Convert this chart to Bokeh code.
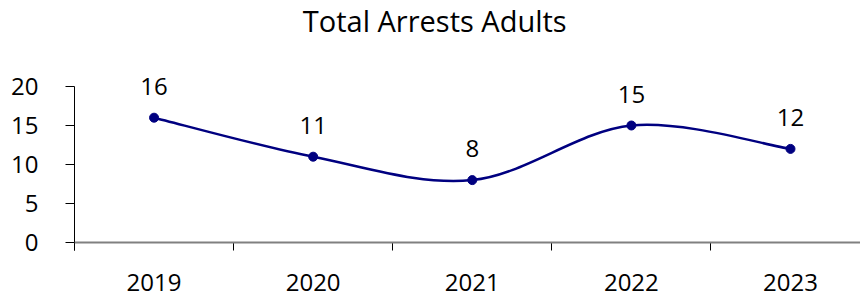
from bokeh.plotting import figure
from bokeh.models import (ColumnDataSource, Range1d, FixedTicker, LabelSet, Label, Span,
                          CustomJSTickFormatter)
from bokeh.core.properties import value
from bokeh.embed import file_html
from bokeh.resources import INLINE

title_text = "Total Arrests Adults"
years = ["2019", "2020", "2021", "2022", "2023"]
arrests = [16, 11, 8, 15, 12]
y_ticks = [0, 5, 10, 15, 20]

FONT = "Open Sans"
NAVY = "#000080"

xs = list(range(len(years)))

# smoothed line (Catmull-Rom style Bezier through the data points)
px = [xs[0]] + xs + [xs[-1]]
py = [arrests[0]] + arrests + [arrests[-1]]
bz = dict(x0=[], y0=[], x1=[], y1=[], cx0=[], cy0=[], cx1=[], cy1=[])
for i in range(len(xs) - 1):
    a, b, c, d = i, i + 1, i + 2, i + 3
    bz["x0"].append(px[b]); bz["y0"].append(py[b])
    bz["x1"].append(px[c]); bz["y1"].append(py[c])
    bz["cx0"].append(px[b] + (px[c] - px[a]) / 6.0)
    bz["cy0"].append(py[b] + (py[c] - py[a]) / 6.0)
    bz["cx1"].append(px[c] - (px[d] - px[b]) / 6.0)
    bz["cy1"].append(py[c] - (py[d] - py[b]) / 6.0)

Y_START, Y_END = -1.026, 31.026

p = figure(width=860, height=298, output_backend="svg", toolbar_location=None,
           title_location=None,
           x_range=Range1d(-0.5, 4.44), y_range=Range1d(Y_START, Y_END),
           min_border_left=74, min_border_right=0, min_border_top=0,
           min_border_bottom=48)

p.outline_line_color = None
p.grid.visible = False

# chart title (placed in the top part of the frame)
p.add_layout(Label(x=1.764, y=28.5, text=title_text, text_align="center",
                   text_baseline="alphabetic", text_font=FONT,
                   text_font_size="29px", text_color="#000000"))

# y axis
p.yaxis.ticker = FixedTicker(ticks=y_ticks)
p.yaxis.bounds = (Y_START, 20)
p.yaxis.major_tick_out = 9
p.yaxis.major_tick_in = 0
p.yaxis.minor_tick_line_color = None
p.yaxis.major_label_standoff = 27
p.yaxis.major_label_text_font = FONT
p.yaxis.major_label_text_font_size = "24px"
p.yaxis.major_label_text_color = "#000000"
p.yaxis.axis_line_color = "#000000"
p.yaxis.major_tick_line_color = "#000000"

# x axis: labels at category centers, small ticks at category boundaries
p.xaxis.ticker = FixedTicker(ticks=xs, minor_ticks=[-0.5, 0.5, 1.5, 2.5, 3.5])
p.xaxis.formatter = CustomJSTickFormatter(args=dict(labels=years),
                                          code="return labels[Math.round(tick)];")
p.xaxis.axis_line_color = None
p.xaxis.major_tick_line_color = None
p.xaxis.major_tick_in = 0
p.xaxis.major_tick_out = 0
p.xaxis.minor_tick_in = 8
p.xaxis.minor_tick_out = 0
p.xaxis.minor_tick_line_color = "#000000"
p.xaxis.major_label_standoff = 23
p.xaxis.major_label_text_font = FONT
p.xaxis.major_label_text_font_size = "24px"
p.xaxis.major_label_text_color = "#000000"

# baseline at zero
p.add_layout(Span(location=0, dimension="width", line_color="#808080", line_width=2))

p.bezier(x0="x0", y0="y0", x1="x1", y1="y1", cx0="cx0", cy0="cy0", cx1="cx1", cy1="cy1",
         source=ColumnDataSource(bz), line_color=NAVY, line_width=2.5)

src = ColumnDataSource(dict(x=xs, y=arrests, lbl=[str(v) for v in arrests]))
p.scatter("x", "y", source=src, size=9, fill_color=NAVY, line_color=NAVY)

labels = LabelSet(x="x", y="y", text="lbl", source=src, x_offset=0, y_offset=23,
                  text_align="center", text_baseline="alphabetic",
                  text_font=value(FONT), text_font_size=value("24px"),
                  text_color="#000000")
p.add_layout(labels)

open("out.html", "w").write(file_html(p, INLINE))
